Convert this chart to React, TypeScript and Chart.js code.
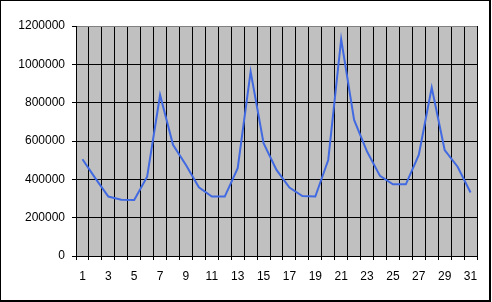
import React, { useEffect, useRef } from "react";
import { Chart, registerables } from "chart.js";

Chart.register(...registerables);

const categories: string[] = Array.from({ length: 31 }, (_, i) => String(i + 1));
const values: number[] = [
  505000, 405000, 310000, 294000, 292000, 414000, 840000, 580000, 475000, 359000,
  310000, 310000, 458000, 962000, 588000, 449000, 357000, 313000, 310000, 501000,
  1131000, 710000, 545000, 418000, 374000, 374000, 527000, 879000, 553000, 466000,
  331000,
];
const yMin = 0;
const yMax = 1200000;
const yStep = 200000;

const FONT = { family: "'Liberation Sans', Arial, sans-serif", size: 12 };

const plotBg = {
  id: "plotBg",
  beforeDraw(chart: any) {
    const { ctx, chartArea } = chart;
    if (!chartArea) return;
    ctx.save();
    ctx.fillStyle = "#C0C0C0";
    ctx.fillRect(chartArea.left, chartArea.top, chartArea.right - chartArea.left, chartArea.bottom - chartArea.top);
    ctx.restore();
  },
};

export default function App() {
  const ref = useRef<HTMLCanvasElement | null>(null);
  useEffect(() => {
    if (!ref.current) return;
    const chart = new Chart(ref.current, {
      type: "line",
      data: {
        labels: categories,
        datasets: [
          {
            data: values,
            borderColor: "#4169E1",
            borderWidth: 2,
            pointRadius: 0,
            tension: 0,
            fill: false,
          },
        ],
      },
      plugins: [plotBg],
      options: {
        animation: false,
        responsive: false,
        devicePixelRatio: 1,
        layout: { padding: { top: 26, right: 15, left: 0, bottom: 0 } },
        plugins: { legend: { display: false }, tooltip: { enabled: false } },
        scales: {
          x: {
            type: "category",
            offset: true,
            afterFit: (s: any) => {
              s.height = 46;
            },
            grid: {
              offset: true,
              color: (c: any) => (c.index === categories.length ? "#808080" : "#000000"),
              tickColor: "#000000",
              tickLength: 4,
              lineWidth: 1,
            },
            border: { color: "#000000", width: 1 },
            ticks: {
              autoSkip: false,
              maxRotation: 0,
              minRotation: 0,
              padding: 9,
              color: "#000000",
              font: FONT,
              callback: (_v: any, i: number) => (i % 2 === 0 ? categories[i] : ""),
            },
          },
          y: {
            min: yMin,
            max: yMax,
            afterFit: (s: any) => {
              s.width = 76;
            },
            grid: {
              color: (c: any) => (c.tick && c.tick.value === yMax ? "#808080" : "#000000"),
              tickColor: "#000000",
              tickLength: 4,
              lineWidth: 1,
            },
            border: { color: "#000000", width: 1 },
            ticks: {
              stepSize: yStep,
              padding: 7,
              color: "#000000",
              font: FONT,
              callback: (v: any) => String(v),
            },
          },
        },
      },
    });
    return () => chart.destroy();
  }, []);
  return (
    <div style={{ position: "fixed", left: 0, top: 0, width: 492, height: 302, background: "#fff" }}>
      <canvas ref={ref} width={492} height={302} style={{ display: "block" }} />
      <div
        style={{
          position: "absolute",
          left: 0,
          top: 0,
          width: 491,
          height: 302,
          boxSizing: "border-box",
          borderLeft: "1px solid #000",
          borderTop: "1px solid #000",
          borderRight: "2px solid #000",
          borderBottom: "2px solid #000",
          pointerEvents: "none",
        }}
      />
    </div>
  );
}
